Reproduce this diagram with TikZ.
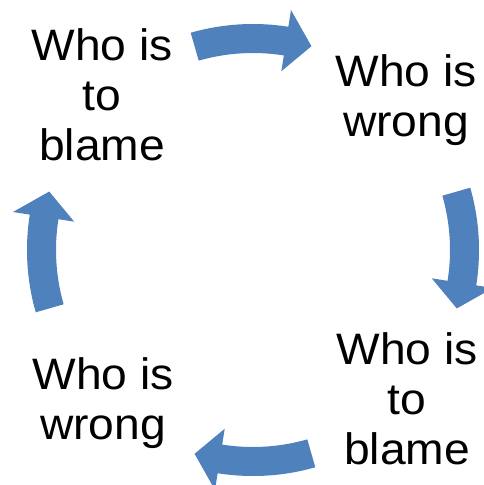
\documentclass[tikz,border=0pt]{standalone}
\usepackage{fontspec}
\setmainfont{Liberation Sans}[FakeStretch=1.05]
\definecolor{cycleblue}{HTML}{4F81BD}
\tikzset{
  cyclelabel/.style={align=center, anchor=base, inner sep=0pt, font=\fontsize{44}{50}\selectfont, text=black},
  cyclearrowfill/.style={fill=cycleblue, draw=none}
}
\newcommand\cyclearrow[1]{%
  \fill[cyclearrowfill] (#1+16:226) arc[start angle=#1+16, end angle=#1-9, radius=226]
    -- (#1-9:243) -- (#1-16:212) -- (#1-9:181) -- (#1-9:197)
    arc[start angle=#1-9, end angle=#1+16, radius=197] -- cycle;}
\begin{document}
\begin{tikzpicture}[x=1pt,y=1pt]
\useasboundingbox (0,0) rectangle (483,-485);
\fill[white] (0,0) rectangle (483,-485);
\begin{scope}[shift={(253,-250)}]
  \coordinate (C) at (0,0);
  \cyclearrow{90}
  \cyclearrow{0}
  \cyclearrow{-90}
  \cyclearrow{180}
\end{scope}
\node[cyclelabel] (tl) at (102,-160) {Who is\\to\\blame};
\node[cyclelabel] (tr) at (406,-136) {Who is\\wrong};
\node[cyclelabel] (br) at (407,-464) {Who is\\to\\blame};
\node[cyclelabel] (bl) at (103,-439) {Who is\\wrong};
\end{tikzpicture}
\end{document}
